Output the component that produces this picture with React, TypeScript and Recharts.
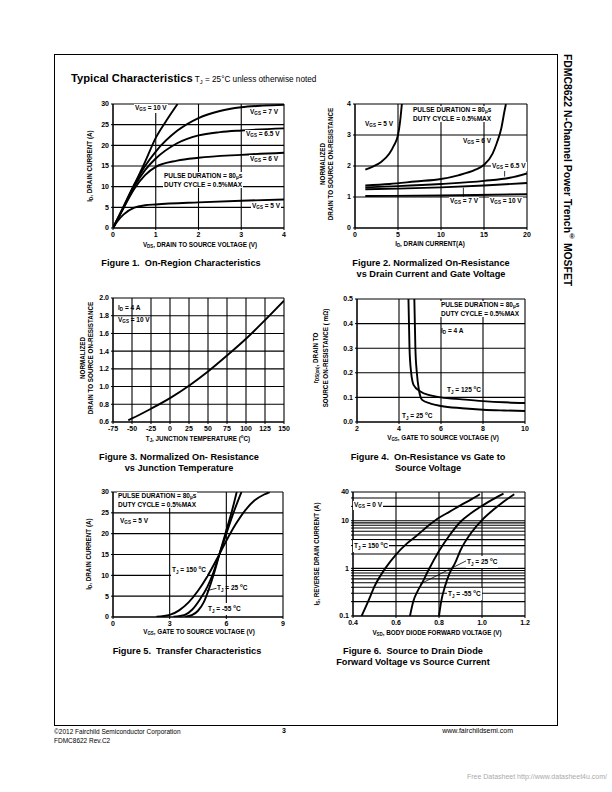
import React from "react";
import {
  LineChart, Line, XAxis, YAxis, CartesianGrid, ReferenceLine,
} from "recharts";

const FONT = '"Liberation Sans", Arial, Helvetica, sans-serif';

// Figure 1: ID vs VDS for several VGS
const F1_VGS10 = [[0, 0], [0.25, 5], [0.5, 10.5], [0.75, 16], [1, 21.8], [1.25, 26], [1.51, 30]];
const F1_VGS7 = [[0, 0], [0.25, 5.3], [0.5, 10.6], [0.75, 15], [1, 18.5], [1.5, 23.5], [2, 26.6], [2.5, 28.3], [3, 29.2], [3.5, 29.6], [4, 29.8]];
const F1_VGS65 = [[0, 0], [0.25, 5.1], [0.5, 10.1], [0.75, 14], [1, 16.8], [1.5, 20.5], [2, 22.4], [2.5, 23.2], [3, 23.6], [4, 24.1]];
const F1_VGS6 = [[0, 0], [0.25, 4.9], [0.5, 9.5], [0.75, 12.8], [1, 14.8], [1.5, 16.3], [2, 17], [3, 17.7], [4, 18.2]];
const F1_VGS5 = [[0, 0], [0.1, 1.6], [0.25, 3.3], [0.5, 4.9], [0.75, 5.5], [1, 5.7], [2, 6.2], [3, 6.6], [4, 6.9]];

// Figure 2: normalized RDS(on) vs ID
const F2_VGS5 = [[1.2, 1.88], [2, 1.97], [3, 2.12], [4, 2.4], [4.5, 2.65], [5, 3.0], [5.25, 3.45], [5.45, 4]];
const F2_VGS6 = [[1.2, 1.37], [4, 1.42], [7, 1.5], [10, 1.58], [12, 1.7], [14, 1.88], [15, 2.04], [16, 2.4], [16.5, 2.75], [17, 3.2], [17.4, 3.8], [17.55, 4]];
const F2_VGS65 = [[1.2, 1.31], [5, 1.35], [10, 1.42], [15, 1.52], [18, 1.62], [20, 1.76]];
const F2_VGS7 = [[1.2, 1.25], [5, 1.27], [10, 1.31], [15, 1.37], [20, 1.45]];
const F2_VGS10 = [[1.2, 1.03], [10, 1.05], [20, 1.09]];

// Figure 3: normalized RDS(on) vs TJ
const F3_TEMP = [-55, -50, -25, 0, 25, 50, 75, 100, 125, 150];
const F3_RDS = [0.62, 0.64, 0.75, 0.87, 1.01, 1.17, 1.35, 1.54, 1.75, 1.97];

// Figure 4: rDS(on) vs VGS
const F4_T125 = [[4.45, 0.5], [4.5, 0.3], [4.58, 0.2], [4.7, 0.15], [5, 0.125], [5.5, 0.108], [6, 0.1], [7, 0.092], [8, 0.085], [9, 0.08], [10, 0.077]];
const F4_T25 = [[4.73, 0.5], [4.78, 0.3], [4.85, 0.2], [4.95, 0.13], [5.1, 0.09], [5.5, 0.075], [6, 0.065], [7, 0.056], [8, 0.05], [9, 0.047], [10, 0.045]];

// Figure 5: transfer characteristics
const F5_T150 = [[2.3, 0.05], [3, 0.5], [3.5, 1.6], [4, 3.5], [4.5, 6.3], [5, 9.8], [5.6, 14.8], [6, 18.3], [6.5, 22.3], [7, 25.6], [7.5, 28], [8, 29.4], [8.3, 30]];
const F5_T25 = [[3.2, 0.05], [3.8, 0.5], [4.2, 1.8], [4.6, 4.2], [5, 7.3], [5.3, 10.5], [5.6, 14.6], [6, 20], [6.4, 25.3], [6.8, 30]];
const F5_TM55 = [[3.8, 0.05], [4.2, 0.5], [4.5, 1.5], [4.8, 3.5], [5.1, 7], [5.35, 10.5], [5.6, 14.5], [6, 20.8], [6.3, 25.5], [6.55, 30]];

// Figure 6: body diode forward voltage
const F6_T150 = [[0.44, 0.1], [0.47, 0.2], [0.5, 0.42], [0.55, 1.0], [0.6, 1.95], [0.65, 3.3], [0.7, 5], [0.75, 7.8], [0.8, 11.5], [0.85, 15.5], [0.9, 21], [0.95, 28], [0.99, 36]];
const F6_T25 = [[0.665, 0.1], [0.68, 0.2], [0.7, 0.33], [0.72, 0.48], [0.75, 0.9], [0.8, 2.3], [0.85, 5], [0.9, 9.5], [0.95, 14.5], [1.0, 20.5], [1.05, 28], [1.1, 37]];
const F6_TM55 = [[0.8, 0.1], [0.81, 0.2], [0.83, 0.45], [0.85, 0.8], [0.875, 1.3], [0.9, 2.4], [0.95, 5.6], [1.0, 10.3], [1.05, 16.5], [1.1, 25], [1.15, 36]];
const F6_Y_TICKS = [0.1, 0.2, 0.3, 0.4, 0.5, 0.6, 0.7, 0.8, 0.9, 1, 2, 3, 4, 5, 6, 7, 8, 9, 10, 20, 30, 40];
const F6_Y_LABELS = [0.1, 1, 10, 40];

const pts = (arr: number[][]) => arr.map(([x, y]) => ({ x, y }));

const tickStyle = { fontSize: 7, fontWeight: "bold", fill: "#000", fontFamily: FONT };

function Panel({ box, xDomain, xTicks, xFmt, yDomain, yTicks, yFmt, yLog, lines, segments }: any) {
  const [x0, y0, x1, y1] = box;
  const ml = 30, mt = 8, mr = 12, mb = 16;
  return (
    <div style={{ position: "absolute", left: x0 - ml, top: y0 - mt }}>
      <LineChart width={x1 - x0 + ml + mr} height={y1 - y0 + mt + mb} margin={{ top: mt, right: mr, left: 0, bottom: 0 }}>
        <CartesianGrid stroke="#000" strokeWidth={1.1} />
        <XAxis
          type="number" dataKey="x" domain={xDomain} ticks={xTicks} tickFormatter={xFmt}
          interval={0} height={mb} tick={tickStyle} tickSize={2} tickLine={{ stroke: "#000" }}
          axisLine={{ stroke: "#000" }} allowDataOverflow
        />
        <YAxis
          type="number" dataKey="y" domain={yDomain} ticks={yTicks} tickFormatter={yFmt}
          scale={yLog ? "log" : "auto"} interval={0} width={ml} tick={tickStyle} tickSize={2}
          tickLine={{ stroke: "#000" }} axisLine={{ stroke: "#000" }} allowDataOverflow
        />
        {lines.map((d: any, i: number) => (
          <Line key={i} data={d} dataKey="y" type="monotone" stroke="#000" strokeWidth={1.9} dot={false} isAnimationActive={false} />
        ))}
        {(segments || []).map((s: any, i: number) => (
          <ReferenceLine key={"s" + i} segment={s} stroke="#000" strokeWidth={0.8} />
        ))}
      </LineChart>
    </div>
  );
}

const Sb = ({ t }: { t: string }) => (
  <span style={{ fontSize: "0.7em", verticalAlign: "-0.3em" }}>{t}</span>
);

const Deg = () => <sup style={{ fontSize: "0.7em" }}>o</sup>;

function Note({ x, y, children, bg = true }: any) {
  return (
    <div style={{
      position: "absolute", left: x, top: y, fontSize: 6.5, fontWeight: "bold", lineHeight: "7px",
      whiteSpace: "nowrap", background: bg ? "#fff" : "transparent", padding: "0 1px",
    }}>{children}</div>
  );
}

function XTitle({ cx, y, children }: any) {
  return (
    <div style={{ position: "absolute", left: cx, top: y, transform: "translateX(-50%)", fontSize: 6.3, fontWeight: "bold", whiteSpace: "nowrap" }}>
      {children}
    </div>
  );
}

function YTitle({ cx, cy, children }: any) {
  return (
    <div style={{
      position: "absolute", left: cx, top: cy, transform: "translate(-50%,-50%) rotate(-90deg)",
      fontSize: 6.3, fontWeight: "bold", whiteSpace: "nowrap", textAlign: "center", lineHeight: "8px",
    }}>{children}</div>
  );
}

function Caption({ cx, y, lines }: any) {
  return (
    <div style={{ position: "absolute", left: cx, top: y, transform: "translateX(-50%)", fontSize: 9.2, fontWeight: "bold", whiteSpace: "pre", textAlign: "center", lineHeight: "10.8px" }}>
      {lines.join("\n")}
    </div>
  );
}

const fix1 = (v: number) => v.toFixed(1);

export default function App() {
  return (
    <div style={{ position: "absolute", left: 0, top: 0, width: 612, height: 792, background: "#fff", fontFamily: FONT, color: "#000" }}>
      {/* page frame */}
      <div style={{ position: "absolute", left: 54, top: 54, width: 504, height: 672, border: "1px solid #000", boxSizing: "border-box" }} />
      <div style={{ position: "absolute", left: 562, top: 54, writingMode: "vertical-rl", fontSize: 10.4, fontWeight: "bold", whiteSpace: "nowrap" }}>
        FDMC8622 N-Channel Power Trench<sup style={{ fontSize: 7 }}>®</sup> MOSFET
      </div>
      <div style={{ position: "absolute", left: 71, top: 68, whiteSpace: "nowrap" }}>
        <span style={{ fontSize: 11.2, fontWeight: "bold" }}>Typical Characteristics</span>
        <span style={{ fontSize: 8.2 }}> T<Sb t="J" /> = 25°C unless otherwise noted</span>
      </div>

      {/* Figure 1 */}
      <Panel
        box={[113, 104, 284, 228]} xDomain={[0, 4]} xTicks={[0, 1, 2, 3, 4]}
        yDomain={[0, 30]} yTicks={[0, 5, 10, 15, 20, 25, 30]}
        lines={[pts(F1_VGS10), pts(F1_VGS7), pts(F1_VGS65), pts(F1_VGS6), pts(F1_VGS5)]}
      />
      <Note x={134} y={104}>V<Sb t="GS" /> = 10 V</Note>
      <Note x={249} y={108}>V<Sb t="GS" /> = 7 V</Note>
      <Note x={245} y={130}>V<Sb t="GS" /> = 6.5 V</Note>
      <Note x={249} y={155}>V<Sb t="GS" /> = 6 V</Note>
      <Note x={163} y={172}>PULSE DURATION = 80<Sb t="μ" />s<br />DUTY CYCLE = 0.5%MAX</Note>
      <Note x={251} y={202}>V<Sb t="GS" /> = 5 V</Note>
      <XTitle cx={200} y={241}>V<Sb t="DS" />, DRAIN TO SOURCE VOLTAGE (V)</XTitle>
      <YTitle cx={91} cy={166}>I<Sb t="D" />, DRAIN CURRENT (A)</YTitle>
      <Caption cx={181} y={258} lines={["Figure 1.  On-Region Characteristics"]} />

      {/* Figure 2 */}
      <Panel
        box={[355, 104, 527, 228]} xDomain={[0, 20]} xTicks={[0, 5, 10, 15, 20]}
        yDomain={[0, 4]} yTicks={[0, 1, 2, 3, 4]}
        lines={[pts(F2_VGS5), pts(F2_VGS6), pts(F2_VGS65), pts(F2_VGS7), pts(F2_VGS10)]}
        segments={[
          [{ x: 17.4, y: 1.9 }, { x: 17.4, y: 1.66 }],
          [{ x: 12.6, y: 0.98 }, { x: 12.6, y: 1.3 }],
        ]}
      />
      <Note x={412} y={106}>PULSE DURATION = 80<Sb t="μ" />s<br />DUTY CYCLE = 0.5%MAX</Note>
      <Note x={364} y={120} bg={false}>V<Sb t="GS" /> = 5 V</Note>
      <Note x={462} y={137} bg={false}>V<Sb t="GS" /> = 6 V</Note>
      <Note x={491} y={162}>V<Sb t="GS" /> = 6.5 V</Note>
      <Note x={449} y={197}>V<Sb t="GS" /> = 7 V</Note>
      <Note x={489} y={197}>V<Sb t="GS" /> = 10 V</Note>
      <XTitle cx={430} y={240}>I<Sb t="D" />, DRAIN CURRENT(A)</XTitle>
      <YTitle cx={327} cy={164}>NORMALIZED<br />DRAIN TO SOURCE ON-RESISTANCE</YTitle>
      <Caption cx={431} y={258} lines={["Figure 2. Normalized On-Resistance", "vs Drain Current and Gate Voltage"]} />

      {/* Figure 3 */}
      <Panel
        box={[113, 298, 284, 422]} xDomain={[-75, 150]} xTicks={[-75, -50, -25, 0, 25, 50, 75, 100, 125, 150]}
        yDomain={[0.6, 2.0]} yTicks={[0.6, 0.8, 1.0, 1.2, 1.4, 1.6, 1.8, 2.0]} yFmt={fix1}
        lines={[F3_TEMP.map((x, i) => ({ x, y: F3_RDS[i] }))]}
      />
      <Note x={117} y={304} bg={false}>I<Sb t="D" /> = 4 A<br /><span style={{ display: "inline-block", marginTop: 3 }}>V<Sb t="GS" /> = 10 V</span></Note>
      <XTitle cx={198} y={434}>T<Sb t="J" />, JUNCTION TEMPERATURE (<Deg />C)</XTitle>
      <YTitle cx={87} cy={358}>NORMALIZED<br />DRAIN TO SOURCE ON-RESISTANCE</YTitle>
      <Caption cx={179} y={452} lines={["Figure 3. Normalized On- Resistance", "vs Junction Temperature"]} />

      {/* Figure 4 */}
      <Panel
        box={[357, 299, 525, 422]} xDomain={[2, 10]} xTicks={[2, 4, 6, 8, 10]}
        yDomain={[0, 0.5]} yTicks={[0, 0.1, 0.2, 0.3, 0.4, 0.5]} yFmt={fix1}
        lines={[pts(F4_T125), pts(F4_T25)]}
      />
      <Note x={440} y={301}>PULSE DURATION = 80<Sb t="μ" />s<br />DUTY CYCLE = 0.5%MAX</Note>
      <Note x={440} y={327} bg={false}>I<Sb t="D" /> = 4 A</Note>
      <Note x={446} y={384} bg={false}>T<Sb t="J" /> = 125 <Deg />C</Note>
      <Note x={401} y={410} bg={false}>T<Sb t="J" /> = 25 <Deg />C</Note>
      <XTitle cx={443} y={434}>V<Sb t="GS" />, GATE TO SOURCE VOLTAGE (V)</XTitle>
      <YTitle cx={321} cy={358}>r<Sb t="DS(on)" />, DRAIN TO<br />SOURCE ON-RESISTANCE ( mΩ)</YTitle>
      <Caption cx={428} y={452} lines={["Figure 4.  On-Resistance vs Gate to", "Source Voltage"]} />

      {/* Figure 5 */}
      <Panel
        box={[113, 492, 283, 617]} xDomain={[0, 9]} xTicks={[0, 3, 6, 9]}
        yDomain={[0, 30]} yTicks={[0, 5, 10, 15, 20, 25, 30]}
        lines={[pts(F5_T150), pts(F5_T25), pts(F5_TM55)]}
        segments={[[{ x: 5.48, y: 6.9 }, { x: 4.95, y: 6.3 }]]}
      />
      <Note x={117} y={492}>PULSE DURATION = 80<Sb t="μ" />s<br />DUTY CYCLE = 0.5%MAX</Note>
      <Note x={119} y={517} bg={false}>V<Sb t="GS" /> = 5 V</Note>
      <Note x={171} y={564}>T<Sb t="J" /> = 150 <Deg />C</Note>
      <Note x={216} y={582} bg={false}>T<Sb t="J" /> = 25 <Deg />C</Note>
      <Note x={207} y={603}>T<Sb t="J" /> = -55 <Deg />C</Note>
      <XTitle cx={199} y={628}>V<Sb t="GS" />, GATE TO SOURCE VOLTAGE (V)</XTitle>
      <YTitle cx={90} cy={554}>I<Sb t="D" />, DRAIN CURRENT (A)</YTitle>
      <Caption cx={187} y={646} lines={["Figure 5.  Transfer Characteristics"]} />

      {/* Figure 6 */}
      <Panel
        box={[353, 492, 525, 616]} xDomain={[0.4, 1.2]} xTicks={[0.4, 0.6, 0.8, 1.0, 1.2]} xFmt={fix1}
        yDomain={[0.1, 40]} yTicks={F6_Y_TICKS} yLog
        yFmt={(v: number) => (F6_Y_LABELS.includes(v) ? String(v) : "")}
        lines={[pts(F6_T150), pts(F6_T25), pts(F6_TM55)]}
        segments={[[{ x: 0.928, y: 1.45 }, { x: 0.713, y: 0.47 }]]}
      />
      <Note x={353} y={501}>V<Sb t="GS" /> = 0 V</Note>
      <Note x={353} y={540}>T<Sb t="J" /> = 150 <Deg />C</Note>
      <Note x={466} y={556}>T<Sb t="J" /> = 25 <Deg />C</Note>
      <Note x={447} y={588}>T<Sb t="J" /> = -55 <Deg />C</Note>
      <XTitle cx={437} y={629}>V<Sb t="SD" />, BODY DIODE FORWARD VOLTAGE (V)</XTitle>
      <YTitle cx={318} cy={554}>I<Sb t="S" />, REVERSE DRAIN CURRENT (A)</YTitle>
      <Caption cx={413} y={646} lines={["Figure 6.  Source to Drain Diode", "Forward Voltage vs Source Current"]} />

      {/* footer */}
      <div style={{ position: "absolute", left: 54, top: 727, fontSize: 6.5, lineHeight: "9px" }}>
        ©2012 Fairchild Semiconductor Corporation<br />FDMC8622 Rev.C2
      </div>
      <div style={{ position: "absolute", left: 282, top: 727, fontSize: 7, fontWeight: "bold" }}>3</div>
      <div style={{ position: "absolute", right: 99, top: 727, fontSize: 7 }}>www.fairchildsemi.com</div>
      <div style={{ position: "absolute", right: 5, top: 773, fontSize: 7, color: "#aaa" }}>Free Datasheet http://www.datasheet4u.com/</div>
    </div>
  );
}
